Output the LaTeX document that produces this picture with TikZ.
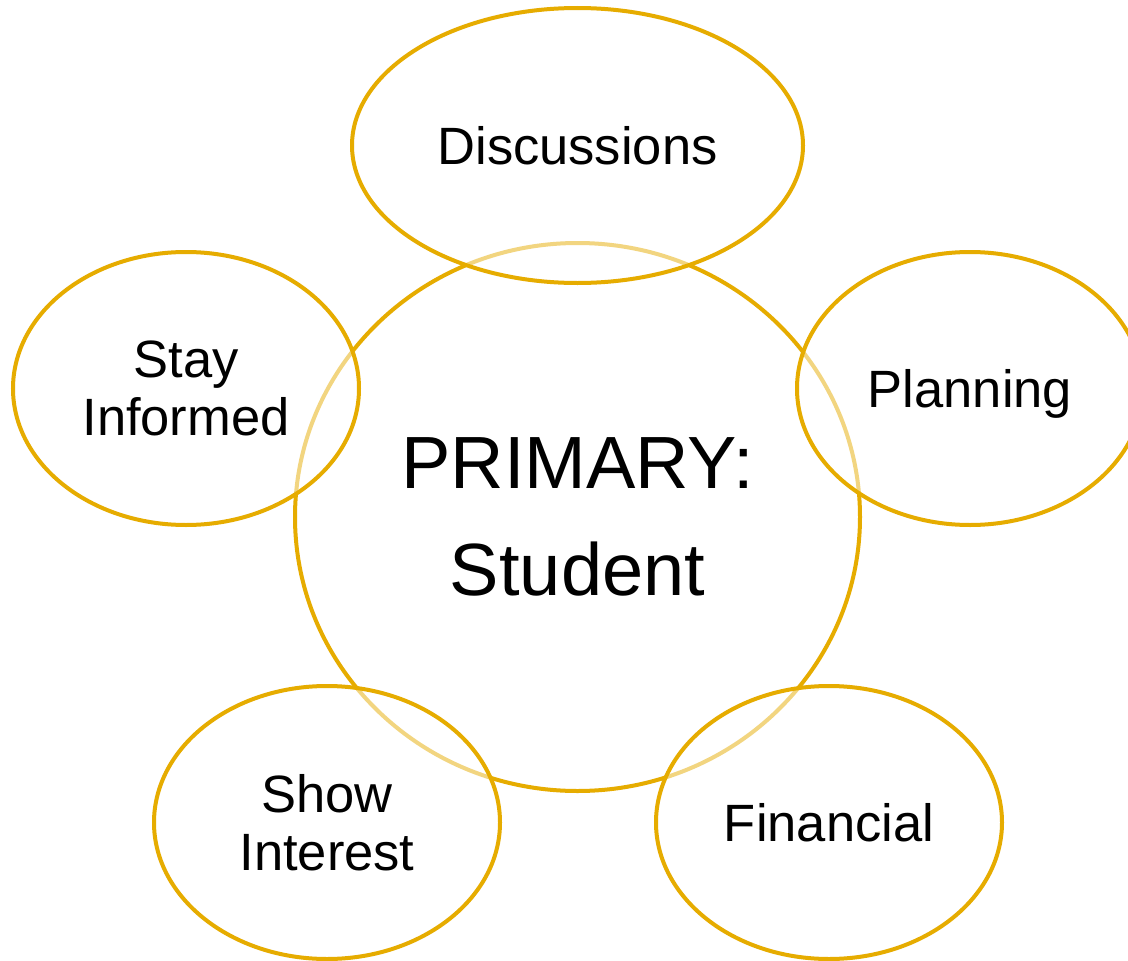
\documentclass[tikz,border=0pt]{standalone}
\usepackage{fontspec}
\setmainfont{Liberation Sans}
\usetikzlibrary{shapes.geometric}
\definecolor{gold}{HTML}{E6AC00}
\tikzset{
  bubble/.style={ellipse, draw=gold, line width=4pt, inner sep=0pt, align=center,
    font=\fontsize{52.5}{58}\selectfont, text=black},
  outer/.style={bubble, fill=white, fill opacity=0.5, draw opacity=1, text opacity=1,
    minimum width=346, minimum height=273},
}
\begin{document}
\begin{tikzpicture}[x=1pt,y=-1pt]
\useasboundingbox[fill=white] (0,0) rectangle (1128,961);
\node[bubble, minimum width=565, minimum height=548, font=\fontsize{74}{107}\selectfont] (primary) at (577.5,517) {PRIMARY:\\Student};
\node[outer, minimum width=451, minimum height=275] (disc) at (577.5,145.5) {Discussions};
\node[outer] (stay) at (186,388.5) {Stay\\Informed};
\node[outer, text depth=0pt] (plan) at (970,388.5) {Planning};
\node[outer] (show) at (327,822.5) {Show\\Interest};
\node[outer] (fin) at (829,822.5) {Financial};
\end{tikzpicture}
\end{document}
